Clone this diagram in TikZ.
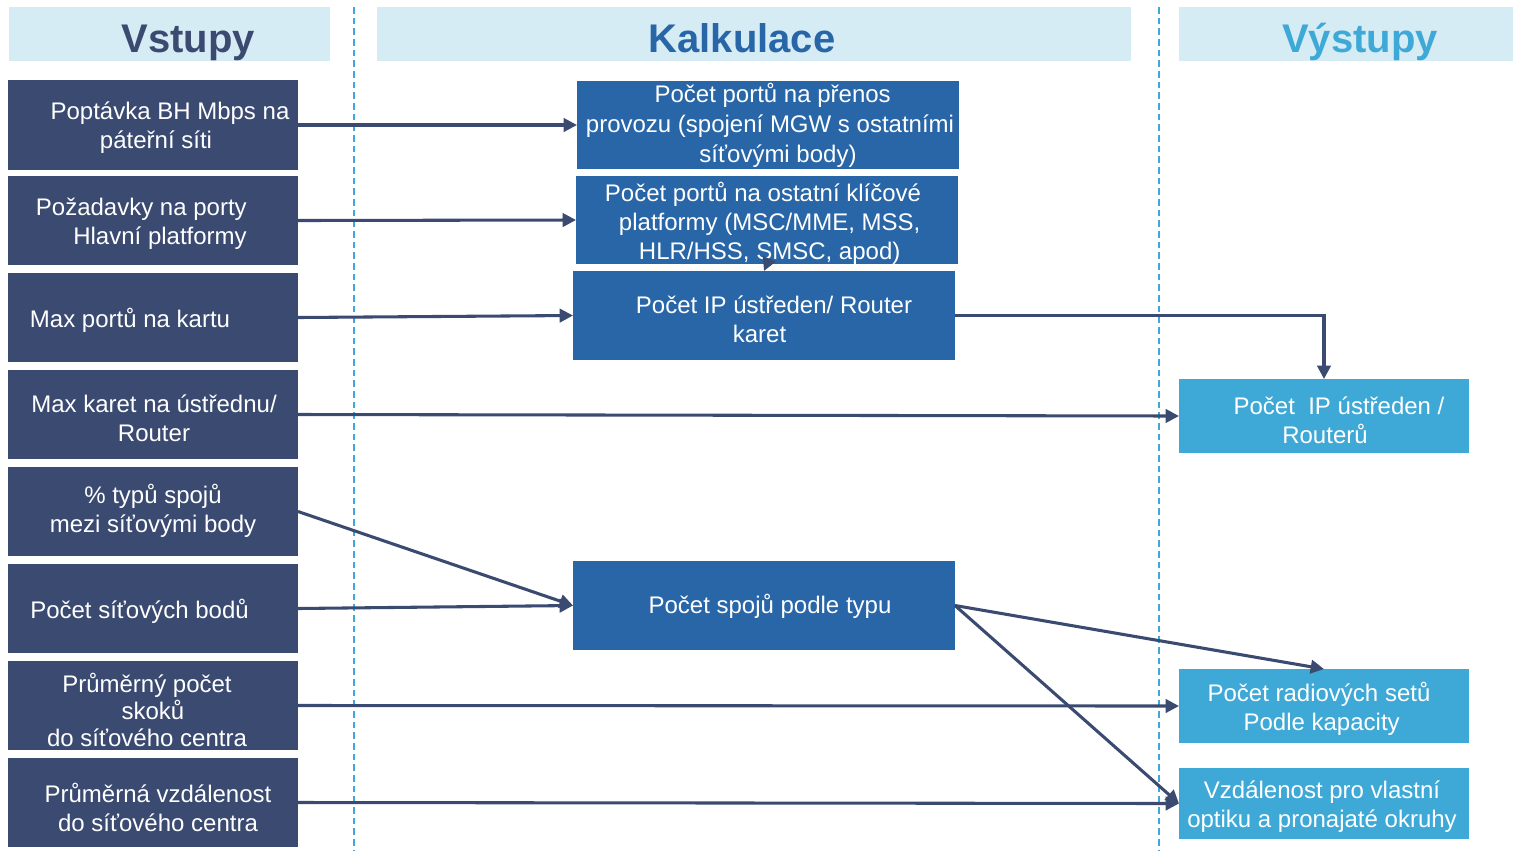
\documentclass[tikz,border=0pt]{standalone}
\usepackage{fontspec}
\setmainfont{Liberation Sans}
\usetikzlibrary{arrows.meta}
\definecolor{navy}{HTML}{3A4A70}
\definecolor{midblue}{HTML}{2866A8}
\definecolor{skyblue}{HTML}{3EA9D7}
\definecolor{band}{HTML}{D6ECF5}
\newdimen\pxu \pxu=0.75pt
\tikzset{
  box/.style={draw=none, inner sep=0pt, outer sep=0pt, minimum width=#1},
  inbox/.style={box=290\pxu, fill=navy, minimum height=89\pxu},
  calcbox/.style={box=382\pxu, fill=midblue},
  outbox/.style={box=290\pxu, fill=skyblue},
  hband/.style={fill=band, draw=none},
  htitle/.style={font=\fontsize{30}{36}\selectfont\bfseries, inner sep=0pt, anchor=base},
  txt/.style={text=white, align=center, inner sep=0pt, font=\fontsize{18}{21.75}\selectfont},
  sep/.style={draw=skyblue, line width=2pt, dash pattern=on 5pt off 3pt},
  link/.style={draw=navy, line width=2.3pt, -{Triangle[length=10pt,width=10pt]}}
}
\begin{document}
\begin{tikzpicture}[x=0.75pt,y=-0.75pt]
\useasboundingbox (0,0) rectangle (1517,851);

% column headers
\fill[hband] (9,7) rectangle (330,61);
\fill[hband] (377,7) rectangle (1131,61);
\fill[hband] (1179,7) rectangle (1513,61);
\node[htitle, text=navy] (t1) at (188,52) {Vstupy};
\node[htitle, text=midblue] (t2) at (742,52) {Kalkulace};
\node[htitle, text=skyblue] (t3) at (1360,52) {Výstupy};

% column separators
\draw[sep] (354,7) -- (354,851);
\draw[sep] (1159,7) -- (1159,851);

% inputs
\node[inbox, minimum height=90\pxu] (L1) at (153,125) {};
\node[inbox] (L2) at (153,220.5) {};
\node[inbox] (L3) at (153,317.5) {};
\node[inbox] (L4) at (153,414.5) {};
\node[inbox] (L5) at (153,511.5) {};
\node[inbox] (L6) at (153,608.5) {};
\node[inbox] (L7) at (153,705.5) {};
\node[inbox] (L8) at (153,802.5) {};
\node[txt] (l1) at (163,128) {\hspace*{10.5pt}Poptávka BH Mbps na\\páteřní síti\hspace*{10.5pt}};
\node[txt, anchor=east, align=right] (l2) at (247,224) {Požadavky na porty\\Hlavní platformy};
\node[txt] (l3) at (130,320) {Max portů na kartu};
\node[txt] (l4) at (154,418) {Max karet na ústřednu/\\Router};
\node[txt] (l5) at (153,511) {\% typů spojů\\mezi síťovými body};
\node[txt] (l6) at (139.5,611) {Počet síťových bodů};
\node[txt, font=\fontsize{18}{20}\selectfont] (l7) at (147,710) {Průměrný počet\\\hspace*{9pt}skoků\\do síťového centra};
\node[txt] (l8) at (158,807) {Průměrná vzdálenost\\do síťového centra};

% calculations
\node[calcbox, minimum height=88\pxu] (A) at (768,125) {};
\node[calcbox, minimum height=88\pxu] (B) at (767,220) {};
\node[calcbox, minimum height=89\pxu] (C) at (764,315.5) {};
\node[calcbox, minimum height=89\pxu] (D) at (764,605.5) {};
\node[txt, font=\fontsize{18}{22.5}\selectfont] (a) at (770,125.5) {\hspace*{4pt}Počet portů na přenos\\provozu (spojení MGW s ostatními\\\hspace*{12pt}síťovými body)};
\node[txt] (b) at (763,223.5) {Počet portů na ostatní klíčové\\\hspace*{10pt}platformy (MSC/MME, MSS,\\\hspace*{10pt}HLR/HSS, SMSC, apod)};
\node[txt] (c) at (774,319) {Počet IP ústředen/ Router\\\hspace*{-21.75pt}karet};
\node[txt] (d) at (770,606.5) {Počet spojů podle typu};

% outputs
\node[outbox, minimum height=74\pxu] (R1) at (1324,416) {};
\node[outbox, minimum height=74\pxu] (R2) at (1324,706) {};
\node[outbox, minimum height=71\pxu] (R3) at (1324,803.5) {};
\node[txt] (r1) at (1331,420) {\hspace*{12pt}Počet \ IP ústředen /\\Routerů\hspace*{9pt}};
\node[txt] (r2) at (1319,709) {Počet radiových setů\\\hspace*{4pt}Podle kapacity};
\node[txt] (r3) at (1322,807) {Vzdálenost pro vlastní\\optiku a pronajaté okruhy};

% connectors
\draw[link] (L1.east) -- (A.west);
\draw[link] (L2.east) -- (B.west);
\draw[link] (L3.east) -- (C.west);
\draw[link] (L4.east) -- (R1.west);
\draw[link] (L5.east) -- (D.west);
\draw[link] (L6.east) -- (D.west);
\draw[link] (L7.east) -- (R2.west);
\draw[link] (L8.east) -- (R3.west);
\draw[link] (B.south) -- (C.north);
\draw[link] (C.east) -| (R1.north);
\draw[link] (D.east) -- (R2.north);
\draw[link] (D.east) -- (R3.west);
\end{tikzpicture}
\end{document}
